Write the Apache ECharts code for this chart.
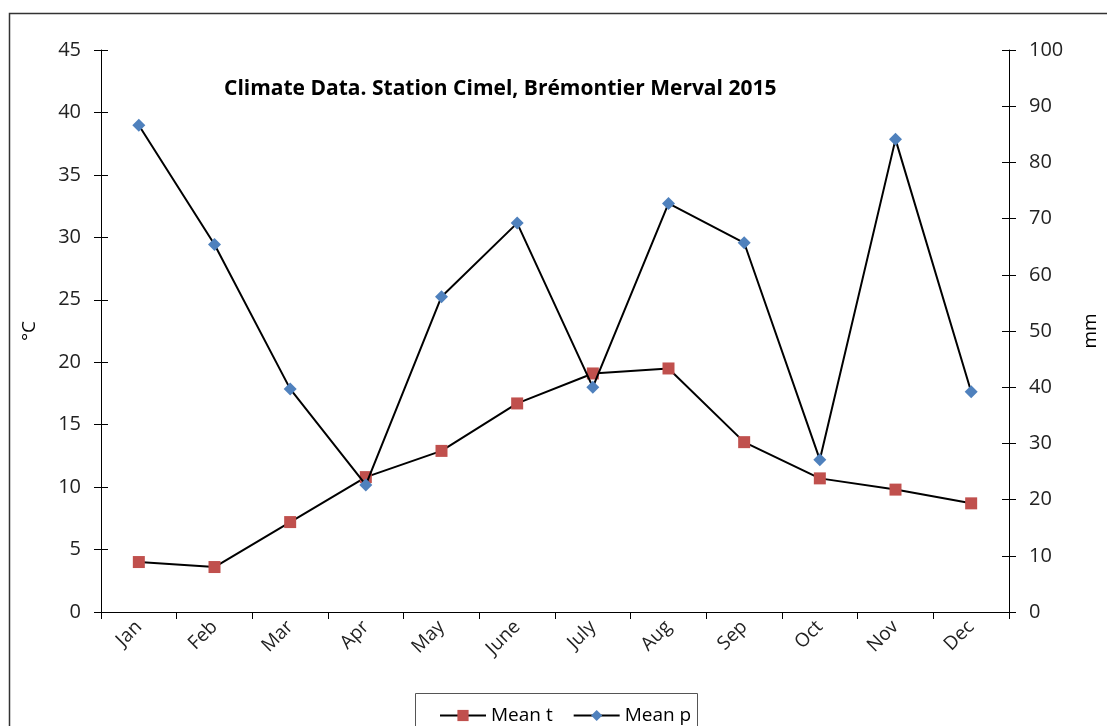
<!DOCTYPE html>
<html>
<head>
<meta charset="utf-8">
<script src="https://cdn.jsdelivr.net/npm/echarts@6/dist/echarts.min.js"></script>
<style>html,body{margin:0;padding:0;background:#fff}#c{width:1107px;height:726px}</style>
</head>
<body>
<div id="c"></div>
<script>
const categories = ['Jan','Feb','Mar','Apr','May','June','July','Aug','Sep','Oct','Nov','Dec'];
const meanT = [4.0, 3.6, 7.2, 10.8, 12.9, 16.7, 19.1, 19.5, 13.6, 10.7, 9.8, 8.7];
const meanP = [86.6, 65.4, 39.7, 22.6, 56.1, 69.2, 40.0, 72.7, 65.7, 27.1, 84.1, 39.2];
const titleText = 'Climate Data. Station Cimel, Brémontier Merval 2015';

const FONT = 'Open Sans';
const axisColor = '#000';
const chart = echarts.init(document.getElementById('c'), null, {renderer: 'canvas'});
const leftAxisBase = {
  type: 'value', min: 0, max: 45, interval: 5,
  axisLine: {show: true, lineStyle: {color: axisColor, width: 1}},
  splitLine: {show: false}
};
const rightAxisBase = {
  type: 'value', min: 0, max: 100, interval: 10,
  axisLine: {show: true, lineStyle: {color: axisColor, width: 1}},
  splitLine: {show: false}
};
chart.setOption({
  animation: false,
  backgroundColor: '#fff',
  title: {
    text: titleText, left: 219, top: 74,
    textStyle: {fontFamily: FONT, fontSize: 21, fontWeight: 'bold', color: '#000'}
  },
  grid: {left: 101, right: 98, top: 50, bottom: 114, containLabel: false, outerBoundsMode: 'none'},
  legend: {
    data: ['Mean t', 'Mean p'],
    left: 434, top: 701, itemGap: 20, itemWidth: 46, itemHeight: 14,
    textStyle: {fontFamily: FONT, fontSize: 19, color: '#000'}
  },
  xAxis: {
    type: 'category', data: categories, boundaryGap: true,
    axisLine: {show: true, lineStyle: {color: axisColor, width: 1}},
    axisTick: {show: true, length: 7, lineStyle: {color: axisColor}},
    axisLabel: {rotate: 45, margin: 12, fontFamily: FONT, fontSize: 19, color: '#222', interval: 0}
  },
  yAxis: [
    Object.assign({}, leftAxisBase, {
      position: 'left', name: '°C', nameLocation: 'middle', nameGap: 62, nameRotate: 90,
      nameTextStyle: {fontFamily: FONT, fontSize: 19, color: '#000'},
      axisTick: {show: true, length: 7, lineStyle: {color: axisColor}},
      axisLabel: {margin: 20, fontFamily: FONT, fontSize: 20, color: '#222'}
    }),
    Object.assign({}, rightAxisBase, {
      position: 'right', name: 'mm', nameLocation: 'middle', nameGap: 72, nameRotate: 90,
      nameTextStyle: {fontFamily: FONT, fontSize: 19, color: '#000'},
      axisTick: {show: true, length: 7, lineStyle: {color: axisColor}},
      axisLabel: {margin: 20, fontFamily: FONT, fontSize: 20, color: '#222'}
    }),
    Object.assign({}, leftAxisBase, {
      position: 'left', axisLine: {show: false},
      axisTick: {show: true, inside: true, length: 7, lineStyle: {color: axisColor}},
      axisLabel: {show: false}
    }),
    Object.assign({}, rightAxisBase, {
      position: 'right', axisLine: {show: false},
      axisTick: {show: true, inside: true, length: 7, lineStyle: {color: axisColor}},
      axisLabel: {show: false}
    })
  ],
  series: [
    {
      name: 'Mean t', type: 'line', yAxisIndex: 0, data: meanT,
      symbol: 'rect', symbolSize: 12,
      lineStyle: {color: '#000', width: 2},
      itemStyle: {color: '#C0504D'}, z: 3
    },
    {
      name: 'Mean p', type: 'line', yAxisIndex: 1, data: meanP,
      symbol: 'diamond', symbolSize: 13,
      lineStyle: {color: '#000', width: 2},
      itemStyle: {color: '#4F81BD'}, z: 4
    }
  ],
  graphic: [
    {type: 'rect', shape: {x: 9.5, y: 13.5, width: 1120, height: 740}, style: {fill: null, stroke: '#333', lineWidth: 1.5}, silent: true},
    {type: 'rect', shape: {x: 415.5, y: 693.5, width: 282, height: 60}, style: {fill: null, stroke: '#555', lineWidth: 1}, silent: true}
  ]
});
</script>
</body>
</html>
